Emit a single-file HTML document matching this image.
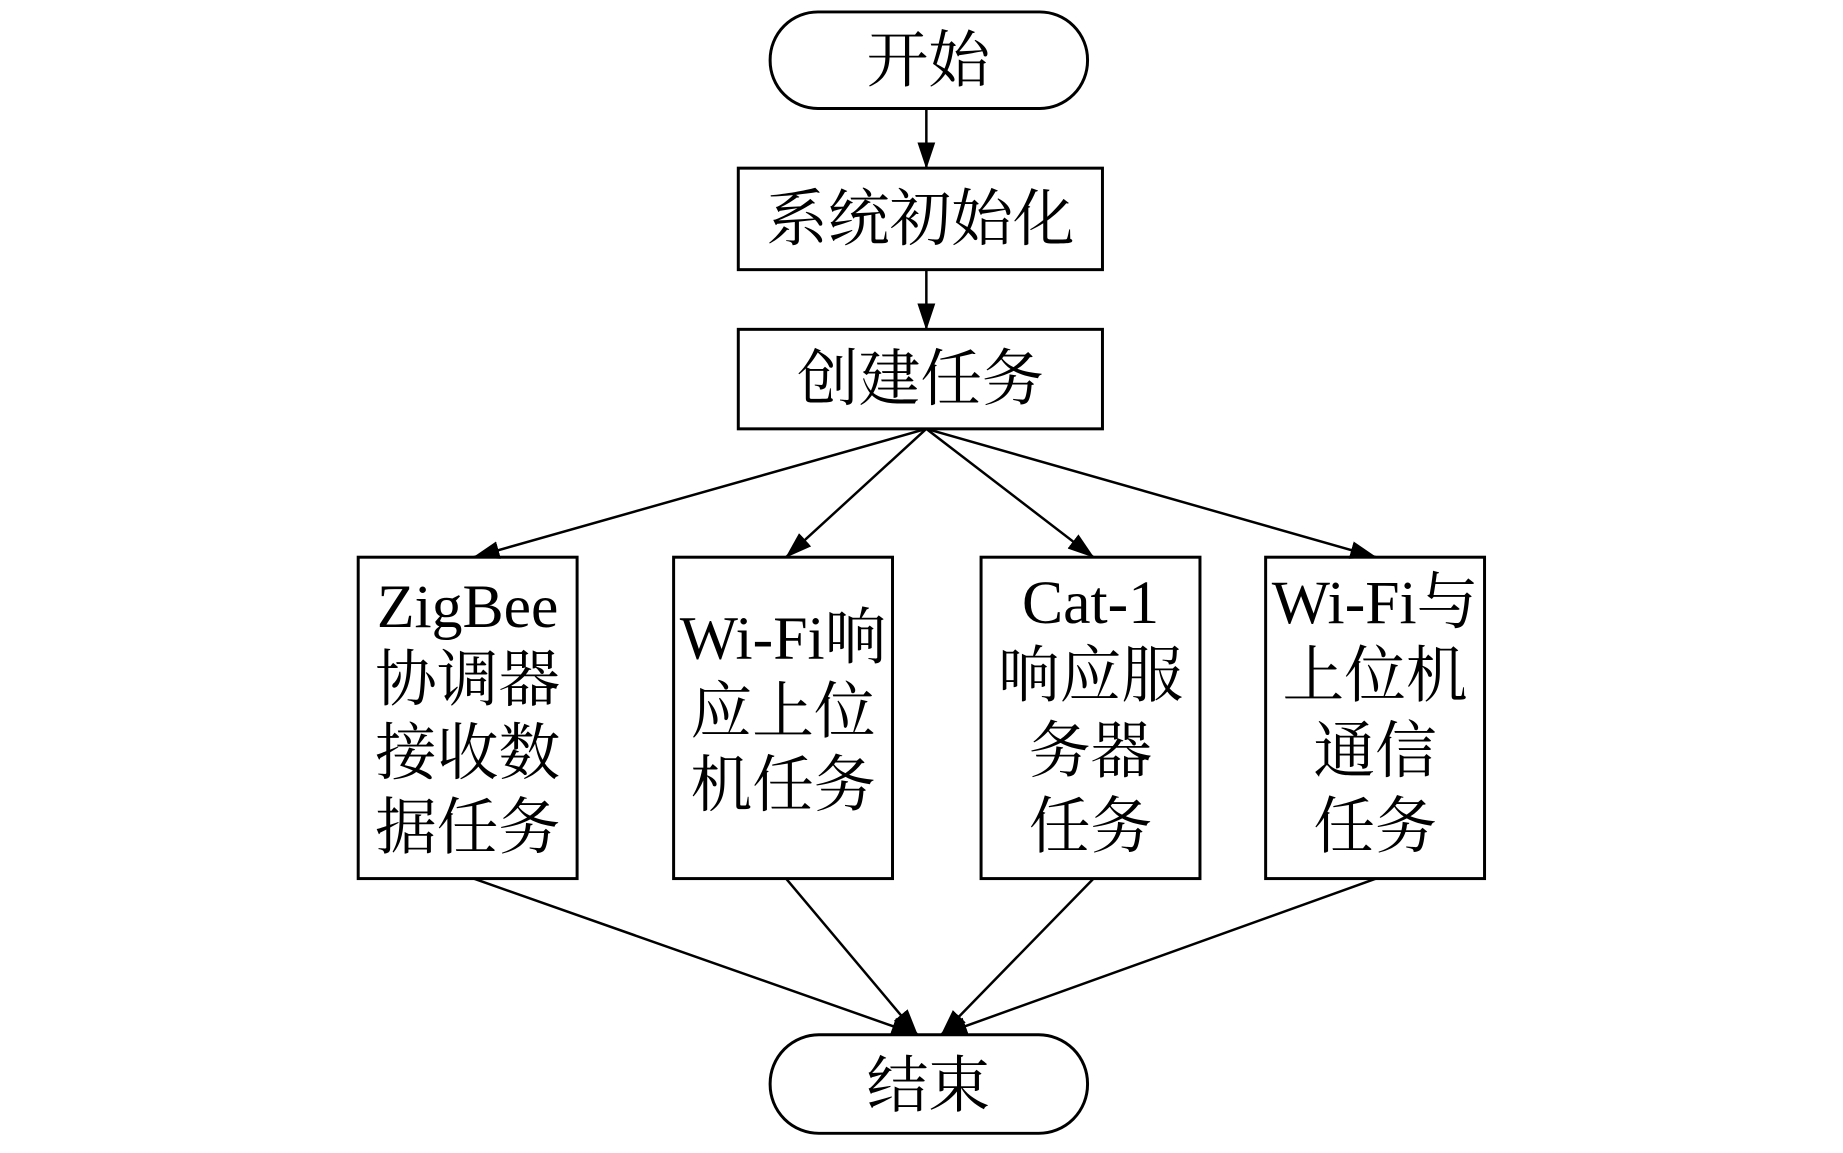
<!DOCTYPE html>
<html><head><meta charset="utf-8"><style>
html,body{margin:0;padding:0;background:#fff;}
svg text{font-family:"Liberation Serif","Noto Serif CJK SC",serif;font-size:62px;fill:#000;}
</style></head><body>
<svg width="1843" height="1148" viewBox="0 0 1843 1148" xmlns="http://www.w3.org/2000/svg">
<defs>
<marker id="b" markerWidth="28" markerHeight="20" refX="26" refY="10" orient="auto" markerUnits="userSpaceOnUse"><path d="M0,1 L27,10 L0,19 Z" fill="#000"/></marker></defs>
<g transform="scale(0.995)">
<g fill="none" stroke="#000" stroke-width="3">
<rect x="774" y="12" width="319" height="97" rx="48"/>
<rect x="742" y="169" width="366" height="102"/>
<rect x="742" y="331" width="366" height="100"/>
<rect x="360" y="560" width="220" height="323"/>
<rect x="677" y="560" width="220" height="323"/>
<rect x="986" y="560" width="220" height="323"/>
<rect x="1272" y="560" width="220" height="323"/>
<rect x="774" y="1040" width="319" height="99" rx="49"/>
</g>
<g stroke="#000" stroke-width="2.5" marker-end="url(#b)">
<line x1="931" y1="109" x2="931" y2="169"/>
<line x1="931" y1="271" x2="931" y2="331"/>
<line x1="931" y1="431" x2="476" y2="560"/>
<line x1="931" y1="431" x2="790" y2="560"/>
<line x1="931" y1="431" x2="1099" y2="560"/>
<line x1="931" y1="431" x2="1383" y2="560"/>
<line x1="476" y1="883" x2="922" y2="1040"/>
<line x1="790" y1="883" x2="922" y2="1040"/>
<line x1="1099" y1="883" x2="946" y2="1040"/>
<line x1="1383" y1="883" x2="946" y2="1040"/>
</g>
<g text-anchor="middle">
<text x="933" y="82">开始</text>
<text x="925" y="241">系统初始化</text>
<text x="925" y="402">创建任务</text>
<text x="470" y="630">ZigBee</text>
<text x="470" y="704">协调器</text>
<text x="470" y="778">接收数</text>
<text x="470" y="853">据任务</text>
<text x="787" y="662">Wi-Fi响</text>
<text x="787" y="736">应上位</text>
<text x="787" y="810">机任务</text>
<text x="1096" y="626">Cat-1</text>
<text x="1096" y="700">响应服</text>
<text x="1096" y="776">务器</text>
<text x="1096" y="852">任务</text>
<text x="1382" y="626">Wi-Fi与</text>
<text x="1382" y="700">上位机</text>
<text x="1382" y="776">通信</text>
<text x="1382" y="852">任务</text>
<text x="933" y="1112">结束</text>
</g>
</g>
</svg>
</body></html>
